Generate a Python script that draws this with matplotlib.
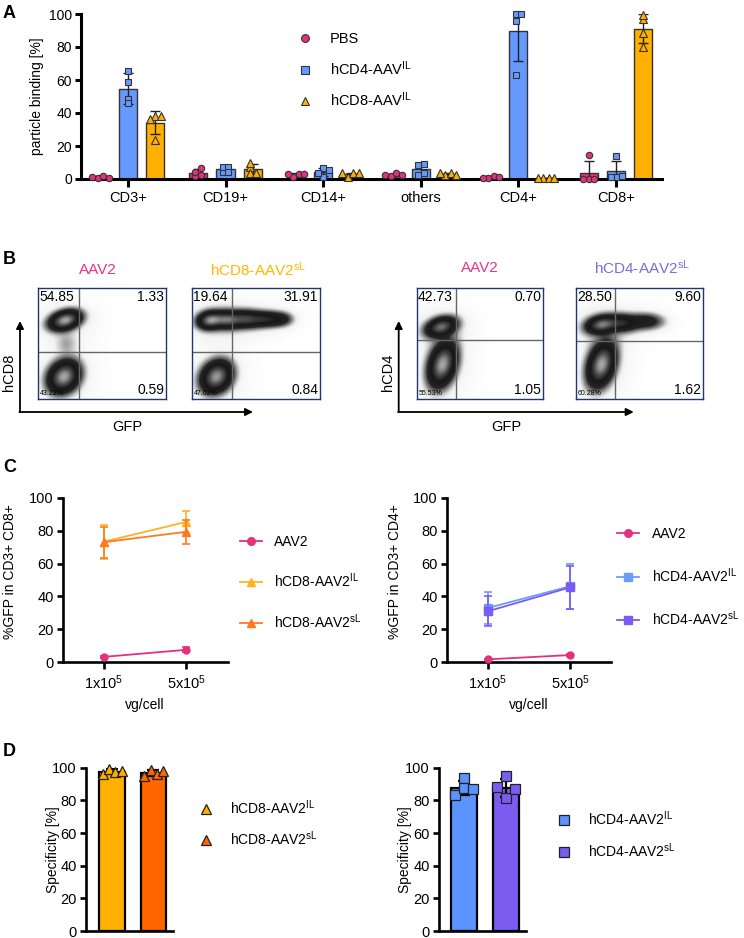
import numpy as np
import matplotlib
matplotlib.use("Agg")
import matplotlib.pyplot as plt
from matplotlib.colors import LinearSegmentedColormap
from matplotlib.lines import Line2D

plt.rcParams['font.family'] = ['Liberation Sans', 'DejaVu Sans']
plt.rcParams['mathtext.fontset'] = 'custom'
plt.rcParams['mathtext.rm'] = 'Liberation Sans'
plt.rcParams['mathtext.it'] = 'Liberation Sans:italic'
plt.rcParams['mathtext.bf'] = 'Liberation Sans:bold'

W, H, DPI = 744, 938, 100

# ====================== DATA ======================
# Panel A : particle binding [%], four donors per group
a_categories = ["CD3+", "CD19+", "CD14+", "others", "CD4+", "CD8+"]
a_labels = ["PBS", r"hCD4-AAV$^{\mathrm{IL}}$", r"hCD8-AAV$^{\mathrm{IL}}$"]
a_pbs = [[0.8, 1.8, 1.0, 0.8], [1.8, 4.4, 6.5, 2.4], [1.0, 3.0, 3.0, 3.0],
         [1.6, 3.4, 2.4, 2.4], [0.4, 2.0, 0.4, 1.4], [0.0, 0.0, 0.0, 14.7]]
a_hcd4 = [[65.7, 59.0, 48.3, 45.9], [4.4, 7.5, 7.5, 4.4], [6.5, 5.5, 1.4, 3.4],
          [8.7, 9.1, 2.6, 3.4], [100.0, 100.0, 96.0, 63.0], [1.4, 1.8, 1.4, 14.1]]
a_hcd8 = [[38.2, 38.2, 36.2, 23.6], [7.5, 9.9, 3.4, 3.4], [1.4, 3.4, 3.4, 3.4],
          [2.6, 3.6, 3.6, 2.6], [0.6, 0.8, 0.8, 0.6], [96.8, 99.2, 88.3, 79.8]]

# Panel B : flow cytometry (quadrant gates, quadrant frequencies, cell populations)
b_titles = ["AAV2", r"hCD8-AAV2$^{\mathrm{sL}}$", "AAV2", r"hCD4-AAV2$^{\mathrm{sL}}$"]
b_quadrants = [["54.85", "1.33", "0.59", "43.22%"],
               ["19.64", "31.91", "0.84", "47.62%"],
               ["42.73", "0.70", "1.05", "55.53%"],
               ["28.50", "9.60", "1.62", "60.28%"]]
b_gates = [(0.32, 0.42), (0.31, 0.42), (0.31, 0.53), (0.31, 0.525)]
# populations: (GFP centre, marker centre, spread GFP, spread marker, correlation, weight)
b_populations = [
    [(0.21, 0.71, 0.068, 0.050, 0.3, 1.0), (0.20, 0.20, 0.068, 0.080, 0.2, 1.0),
     (0.22, 0.50, 0.055, 0.065, 0.0, 0.05)],
    [(0.14, 0.71, 0.055, 0.044, 0.1, 0.9), (0.27, 0.715, 0.065, 0.044, 0.0, 0.75),
     (0.42, 0.72, 0.075, 0.044, 0.0, 0.6), (0.58, 0.72, 0.075, 0.040, 0.0, 0.45),
     (0.70, 0.72, 0.055, 0.038, 0.0, 0.2), (0.19, 0.20, 0.068, 0.080, 0.2, 1.0)],
    [(0.19, 0.65, 0.068, 0.050, 0.3, 0.8), (0.20, 0.31, 0.062, 0.110, 0.3, 1.0)],
    [(0.20, 0.67, 0.068, 0.045, 0.2, 0.8), (0.36, 0.685, 0.075, 0.044, 0.0, 0.45),
     (0.55, 0.70, 0.085, 0.044, 0.0, 0.25), (0.20, 0.31, 0.062, 0.110, 0.3, 1.0)],
]

# Panel C : %GFP (mean, SD)
c_doses = [r"1x10$^{5}$", r"5x10$^{5}$"]
c8_labels = ["AAV2", r"hCD8-AAV2$^{\mathrm{IL}}$", r"hCD8-AAV2$^{\mathrm{sL}}$"]
c8_means = [[3.3, 7.6], [73.3, 85.3], [73.0, 79.3]]
c8_sds = [[0.8, 1.5], [10.3, 6.7], [9.5, 7.3]]
c4_labels = ["AAV2", r"hCD4-AAV2$^{\mathrm{IL}}$", r"hCD4-AAV2$^{\mathrm{sL}}$"]
c4_means = [[1.8, 4.4], [33.0, 46.2], [31.0, 45.5]]
c4_sds = [[0.5, 0.6], [9.5, 13.8], [9.0, 13.0]]

# Panel D : specificity [%]
d8_labels = [r"hCD8-AAV2$^{\mathrm{IL}}$", r"hCD8-AAV2$^{\mathrm{sL}}$"]
d8_points = [[95.9, 99.0, 97.5, 98.2], [94.9, 98.6, 96.1, 98.0]]
d4_labels = [r"hCD4-AAV2$^{\mathrm{IL}}$", r"hCD4-AAV2$^{\mathrm{sL}}$"]
d4_points = [[83.3, 93.5, 87.3, 87.0], [88.4, 94.7, 81.2, 86.7]]

# ====================== STYLE ======================
PINK = '#E5307E'
BLUE = '#6699FF'
ORANGE = '#FFB000'
EDGE = '#333333'

fig = plt.figure(figsize=(W / DPI, H / DPI), dpi=DPI)
ov = fig.add_axes([0, 0, 1, 1], zorder=-1)
ov.set_xlim(0, W)
ov.set_ylim(H, 0)
ov.axis('off')


def px_axes(x0, y0, x1, y1, **kw):
    return fig.add_axes([x0 / W, 1 - y1 / H, (x1 - x0) / W, (y1 - y0) / H], **kw)


def style_axes(ax, lw, fs):
    for s in ('top', 'right'):
        ax.spines[s].set_visible(False)
    for s in ('left', 'bottom'):
        ax.spines[s].set_linewidth(lw)
    ax.tick_params(axis='both', width=lw, length=4.5, labelsize=fs, pad=2)


def place_legend(ax, handles, labels, x_left, y_top, fs, hl, htp, ls):
    return ax.legend(handles, labels, loc='upper left', bbox_to_anchor=(x_left, y_top),
                     bbox_transform=ov.transData, frameon=False, borderpad=0,
                     borderaxespad=0, handlelength=hl, handletextpad=htp,
                     labelspacing=ls, fontsize=fs)


def swarm(vals, ypx, xpx, d):
    placed, out = [], []
    cands = [0]
    for i in range(1, 8):
        cands += [i, -i]
    for v in vals:
        y = v * ypx
        x = 0.0
        for c in cands:
            x = c * d
            if all((x - a) ** 2 + (y - b) ** 2 >= (d * 0.7) ** 2 for a, b in placed):
                break
        placed.append((x, y))
        out.append(x / xpx)
    out = np.array(out)
    return out - (out.max() + out.min()) / 2


# panel letters
for letter, y in zip("ABCD", (13, 259, 468, 752)):
    ov.text(3, y, letter, fontsize=13, fontweight='bold', ha='left', va='center')

# ====================== PANEL A ======================
axA = px_axes(81, 14, 662, 179)
xA = np.arange(len(a_categories))
offsA = [-0.28, 0.0, 0.28]
a_colors = [PINK, BLUE, ORANGE]
a_markers = ['o', 's', '^']
a_ms = [4.6, 5.0, 5.4]
for gi, series in enumerate([a_pbs, a_hcd4, a_hcd8]):
    arr = [np.array(v) for v in series]
    means = np.array([v.mean() for v in arr])
    sds = np.array([v.std(ddof=1) for v in arr])
    xs = xA + offsA[gi]
    axA.bar(xs, means, width=0.185, color=a_colors[gi], edgecolor=EDGE, linewidth=1.0, zorder=2)
    axA.errorbar(xs, means, yerr=sds, fmt='none', ecolor='#222222', elinewidth=1.0,
                 capsize=3.5, capthick=1.0, zorder=3)
    for xi, v in zip(xs, arr):
        axA.plot(xi + swarm(v, 1.65, 97.6, 5.5), v, ls='none', marker=a_markers[gi],
                 ms=a_ms[gi], mfc=a_colors[gi], mec=EDGE, mew=0.8, zorder=4, clip_on=False)
axA.set_xlim(-0.48, 5.47)
axA.set_ylim(0, 100)
axA.set_yticks(range(0, 101, 20))
axA.set_xticks(xA)
axA.set_xticklabels(a_categories)
style_axes(axA, 2.2, 10)
axA.tick_params(axis='x', labelsize=10.5, length=6, pad=3)
axA.set_ylabel("particle binding [%]", fontsize=10)
axA.yaxis.set_label_coords((36.5 - 81) / 581, 0.5)
axA.yaxis.label.set_verticalalignment('center')
hA = [Line2D([], [], ls='none', marker=m, ms=s + 1, mfc=c, mec=EDGE, mew=0.8)
      for m, s, c in zip(a_markers, a_ms, a_colors)]
place_legend(axA, hA, a_labels, 297.7, 32, 10.5, 1.0, 1.21, 0.9)

# ====================== PANEL B ======================
b_boxes = [(38, 288, 166, 399), (192, 288, 320, 399), (416.5, 288, 543, 399), (576, 288, 703, 399)]
b_title_pos = [(98, 270), (258, 270), (480, 268), (642, 268)]
b_title_cols = ['#E8338A', '#FFB800', '#E8338A', '#7D6BD6']
flow_cmap = LinearSegmentedColormap.from_list('flow', [
    (0.0, '#ffffff'), (0.03, '#f2f2f2'), (0.08, '#8e8e8e'), (0.17, '#242424'),
    (0.40, '#161616'), (0.70, '#4e4e4e'), (1.0, '#a8a8a8')])
g = np.linspace(0, 1, 240)
GX, GY = np.meshgrid(g, g)
for k in range(4):
    ax = px_axes(*b_boxes[k])
    D = np.zeros_like(GX)
    for cx, cy, sx, sy, rho, w in b_populations[k]:
        dx = (GX - cx) / sx
        dy = (GY - cy) / sy
        D += w * np.exp(-0.5 * (dx * dx - 2 * rho * dx * dy + dy * dy) / (1 - rho * rho))
        D += 0.035 * w * np.exp(-0.5 * ((dx / 2.6) ** 2 + (dy / 2.6) ** 2))
    D /= D.max()
    ax.imshow(D, extent=(0, 1, 0, 1), origin='lower', cmap=flow_cmap, vmin=0, vmax=1,
              aspect='auto', interpolation='bilinear')
    vx, hy = b_gates[k]
    ax.axvline(vx, color='#666666', lw=1.0)
    ax.axhline(hy, color='#666666', lw=1.0)
    ax.set_xlim(0, 1)
    ax.set_ylim(0, 1)
    ax.set_xticks([])
    ax.set_yticks([])
    for s in ax.spines.values():
        s.set_color('#23356A')
        s.set_linewidth(1.0)
    q = b_quadrants[k]
    ax.text(0.01, 0.985, q[0], transform=ax.transAxes, ha='left', va='top', fontsize=10)
    ax.text(0.985, 0.985, q[1], transform=ax.transAxes, ha='right', va='top', fontsize=10)
    ax.text(0.985, 0.015, q[2], transform=ax.transAxes, ha='right', va='bottom', fontsize=10)
    ax.text(0.015, 0.015, q[3], transform=ax.transAxes, ha='left', va='bottom', fontsize=5)
    tx, ty = b_title_pos[k]
    ov.text(tx, ty, b_titles[k], color=b_title_cols[k], ha='center', va='center', fontsize=11)

arrow_kw = dict(arrowstyle='-|>', lw=1.3, color='black', mutation_scale=11, shrinkA=0, shrinkB=0)
for x0, xend, ylab, gx in [(20, 253, "hCD8", 127), (398.7, 633.7, "hCD4", 506)]:
    ov.annotate('', xy=(x0, 321), xytext=(x0, 412), arrowprops=arrow_kw)
    ov.annotate('', xy=(xend, 412), xytext=(x0 - 0.6, 412), arrowprops=arrow_kw)
    ov.text(x0 - 11, 372, ylab, rotation=90, ha='center', va='center', fontsize=10.5)
    ov.text(gx, 427, "GFP", ha='center', va='center', fontsize=10.5)

# ====================== PANEL C ======================
def panel_c(box, labels, means, sds, colors, markers, ylabel, ylab_px, leg):
    ax = px_axes(*box)
    x = np.arange(1, len(c_doses) + 1)
    for i in (0, 2, 1):
        ax.errorbar(x, means[i], yerr=sds[i], color=colors[i], marker=markers[i],
                    ms=5.5 if i else 5, lw=1.3, elinewidth=1.2, capsize=3, capthick=1.2,
                    mec=colors[i], clip_on=False, zorder=3 + i)
    ax.set_xlim(0.5, 2.5)
    ax.set_ylim(0, 100)
    ax.set_yticks(range(0, 101, 20))
    ax.set_xticks(x)
    ax.set_xticklabels(c_doses)
    style_axes(ax, 1.9, 10.5)
    ax.tick_params(axis='x', length=5, pad=3)
    ax.set_xlabel("vg/cell", fontsize=10)
    ax.xaxis.set_label_coords(0.5, -(705 - 662.3) / 164.6)
    ax.xaxis.label.set_verticalalignment('center')
    ax.set_ylabel(ylabel, fontsize=10)
    ax.yaxis.set_label_coords((ylab_px - box[0]) / (box[2] - box[0]), 0.55)
    ax.yaxis.label.set_verticalalignment('center')
    hs = [Line2D([], [], color=c, marker=m, ms=5.5, lw=1.3) for c, m in zip(colors, markers)]
    place_legend(ax, hs, labels, leg[0], leg[1], 10, 1.55, leg[2], leg[3])
    return ax


panel_c((62.7, 497.7, 227.7, 662.3), c8_labels, c8_means, c8_sds,
        [PINK, '#FFB224', '#FF7A1F'], ['o', '^', '^'], "%GFP in CD3+ CD8+", 10,
        (240, 534.5, 0.9, 1.62))
panel_c((446.7, 497.7, 611.3, 662.3), c4_labels, c4_means, c4_sds,
        [PINK, '#6E9BFF', '#7A5CF2'], ['o', 's', 's'], "%GFP in CD3+ CD4+", 395,
        (617, 527, 0.97, 1.8))

# ====================== PANEL D ======================
def panel_d(box, labels, points, colors, marker, offs, ylab_px, leg, xl):
    ax = px_axes(*box)
    x = np.arange(len(points))
    arr = [np.array(p) for p in points]
    means = np.array([p.mean() for p in arr])
    sds = np.array([p.std(ddof=1) for p in arr])
    ax.bar(x, means, width=0.62, color=colors, edgecolor='black', linewidth=1.6, zorder=2)
    ax.errorbar(x, means, yerr=sds, fmt='none', ecolor='black', elinewidth=1.6,
                capsize=4, capthick=1.6, zorder=3)
    for xi, p, c in zip(x, arr, colors):
        ax.plot(xi + np.array(offs), p, ls='none', marker=marker, ms=7, mfc=c,
                mec='#222222', mew=0.9, zorder=4, clip_on=False)
    ax.set_xlim(*xl)
    ax.set_ylim(0, 100)
    ax.set_yticks(range(0, 101, 20))
    ax.set_xticks([])
    style_axes(ax, 1.9, 10.5)
    ax.set_ylabel("Specificity [%]", fontsize=10)
    ax.yaxis.set_label_coords((ylab_px - box[0]) / (box[2] - box[0]), 0.5)
    ax.yaxis.label.set_verticalalignment('center')
    hs = [Line2D([], [], ls='none', marker=marker, ms=7.5, mfc=c, mec='#222222', mew=0.9)
          for c in colors]
    place_legend(ax, hs, labels, leg[0], leg[1], 10, 1.0, leg[2], leg[3])
    return ax


panel_d((86, 767.7, 173.3, 931), d8_labels, d8_points, ['#FFB000', '#FF6600'], '^',
        [-0.22, -0.07, 0.08, 0.23], 53, (199, 798.5, 1.23, 0.9), (-0.63, 1.48))
panel_d((438.7, 767.7, 526, 931), d4_labels, d4_points, ['#5B93FF', '#7A5CF0'], 's',
        [-0.22, 0.0, 0.0, 0.22], 405, (557.4, 809.5, 1.2, 0.96), (-0.607, 1.487))

fig.savefig("out.png", dpi=DPI)
